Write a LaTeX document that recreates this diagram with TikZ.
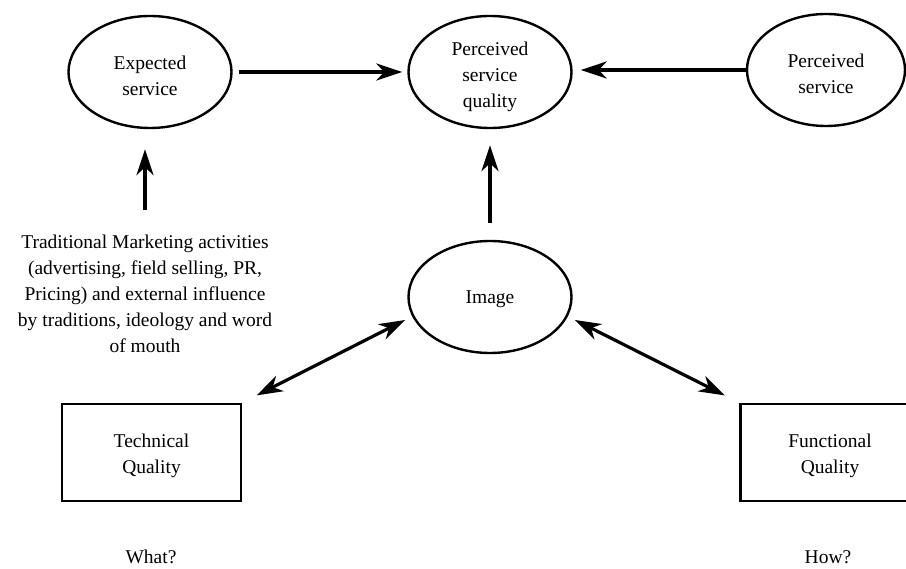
\documentclass[tikz,border=0pt]{standalone}
\usepackage{fontspec}
\setmainfont{Liberation Serif}
\usetikzlibrary{shapes.geometric,arrows.meta}

% strut on a first line: sets the text a little below the shape centre
\newcommand\txtlow[1][21.5pt]{\rule{0pt}{#1}}

\begin{document}
\begin{tikzpicture}[x=1pt,y=-1pt,
  lbl/.style={font=\fontsize{19.5}{26}\selectfont, align=center, text=black},
  oval/.style={lbl, ellipse, draw, line width=2.4pt, inner sep=0pt,
    minimum width=163pt, minimum height=112pt},
  qbox/.style={lbl, rectangle, draw, line width=2.8pt,
    minimum width=179pt, minimum height=97pt},
  arr/.style={line width=3.2pt, -{Stealth[length=26pt,width=17pt,inset=8pt]}},
  dbl/.style={line width=3.2pt, {Stealth[length=26pt,width=17pt,inset=8pt]}-{Stealth[length=26pt,width=17pt,inset=8pt]}}
]
\clip (0,0) rectangle (906,569);
\fill[white] (0,0) rectangle (906,569);

% top row
\node[oval] (exp) at (150,72) {\txtlow Expected\\service};
\node[oval] (psq) at (490,72) {\txtlow[23pt]Perceived\\service\\quality};
\node[oval, minimum width=158pt] (ps) at (826,70) {\txtlow Perceived\\service};

% middle
\node[oval] (img) at (490,297) {\txtlow[17pt]Image};
\node[lbl, inner sep=0pt, anchor=north] (txt) at (145,235)
  {Traditional Marketing activities\\(advertising, field selling, PR,\\Pricing) and external influence\\by traditions, ideology and word\\of mouth};

% bottom row
\node[qbox] (tech) at (151.5,452.5) {\txtlow[19.5pt]Technical\\Quality};
\node[qbox] (func) at (830,452.5) {\txtlow[19.5pt]Functional\\Quality};
\node[lbl] (what) at (151,557) {What?};
\node[lbl] (how) at (828,557) {How?};

% connectors
\draw[arr, shorten <=6pt, shorten >=5pt] (exp.east) -- (psq.west);
\draw[arr, shorten >=8pt] (ps.west) -- (ps.west -| psq.east);
\draw[arr, shorten <=17pt, shorten >=16pt] (img.north) -- (psq.south);
\draw[arr, shorten <=25pt, shorten >=20pt] (txt.north) -- (txt.north |- exp.south);
\draw[dbl, shorten <=8pt, shorten >=16pt] (img.194) -- (tech.north east);
\draw[dbl, shorten <=8pt, shorten >=16pt] (img.346) -- (func.north west);
\end{tikzpicture}
\end{document}
